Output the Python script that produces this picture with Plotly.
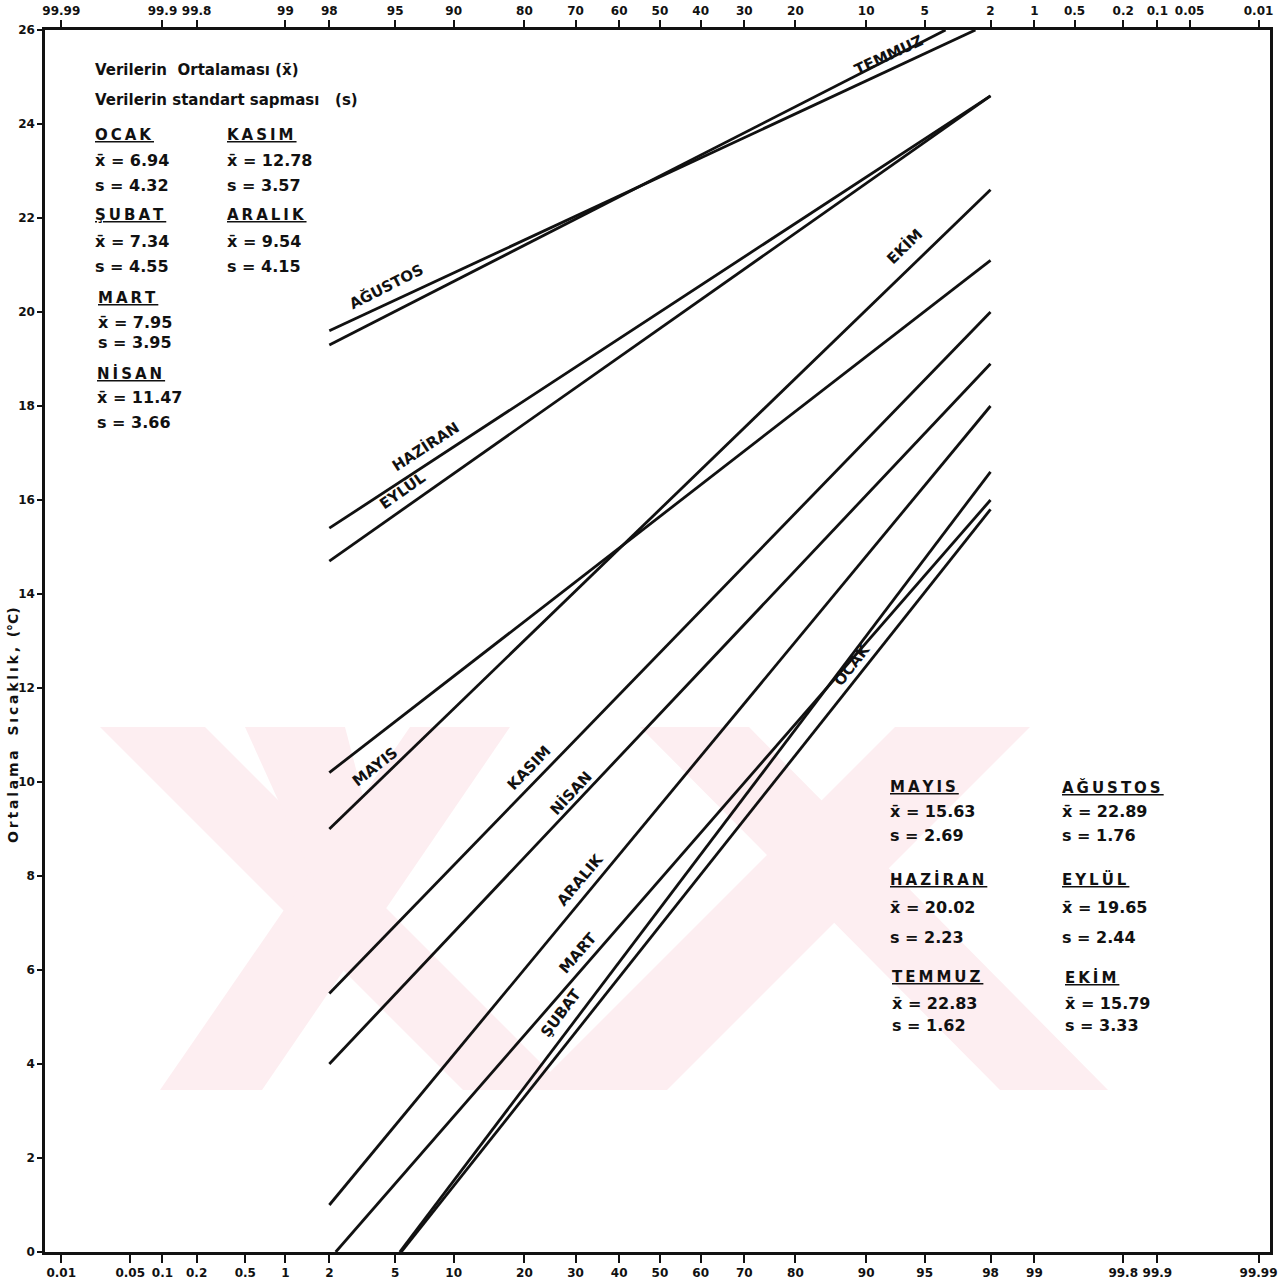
import plotly.graph_objects as go
from statistics import NormalDist

# ---------------- data ----------------
months = ["OCAK", "ŞUBAT", "MART", "NİSAN", "MAYIS", "HAZİRAN",
          "TEMMUZ", "AĞUSTOS", "EYLÜL", "EKİM", "KASIM", "ARALIK"]
means = [6.94, 7.34, 7.95, 11.47, 15.63, 20.02, 22.83, 22.89, 19.65, 15.79, 12.78, 9.54]
stds = [4.32, 4.55, 3.95, 3.66, 2.69, 2.23, 1.62, 1.76, 2.44, 3.33, 3.57, 4.15]

# visible line end points (probability %, temperature °C)
start_p = [5.4, 5.3, 2.2, 2, 2, 2, 2, 2, 2, 2, 2, 2]
start_t = [0.0, 0.0, 0.0, 4.0, 10.2, 15.4, 19.6, 19.3, 14.7, 9.0, 5.5, 1.0]
end_p = [98, 98, 98, 98, 98, 98, 97.5, 96.2, 98, 98, 98, 98]
end_t = [15.8, 16.6, 16.0, 18.9, 21.1, 24.6, 26.0, 26.0, 24.6, 22.6, 20.0, 18.0]

bottom_tick_p = [0.01, 0.05, 0.1, 0.2, 0.5, 1, 2, 5, 10, 20, 30, 40, 50, 60, 70,
                 80, 90, 95, 98, 99, 99.8, 99.9, 99.99]
bottom_tick_text = ["0.01", "0.05", "0.1", "0.2", "0.5", "1", "2", "5", "10", "20", "30",
                    "40", "50", "60", "70", "80", "90", "95", "98", "99", "99.8", "99.9", "99.99"]
top_tick_p = [0.01, 0.1, 0.2, 1, 2, 5, 10, 20, 30, 40, 50, 60, 70, 80, 90, 95, 98,
              99, 99.5, 99.8, 99.9, 99.95, 99.99]
top_tick_text = ["99.99", "99.9", "99.8", "99", "98", "95", "90", "80", "70", "60", "50",
                 "40", "30", "20", "10", "5", "2", "1", "0.5", "0.2", "0.1", "0.05", "0.01"]
y_ticks = list(range(0, 27, 2))

# ---------------- helpers ----------------
nd = NormalDist()


def zq(p):
    return nd.inv_cdf(p / 100.0)


W, H = 1288, 1286
L, R, T, B = 45, 1270, 30, 1252
XR = [-3.82, 3.79]
YR = [0, 26]


def px(x):
    return (x - L) / (R - L)


def py(y):
    return (B - y) / (B - T)


def spaced(s, sep="\u2009"):
    return sep.join(s)


FONT = "DejaVu Sans"
INK = "#111111"

fig = go.Figure()

for i, m in enumerate(months):
    fig.add_trace(go.Scatter(
        x=[zq(start_p[i]), zq(end_p[i])], y=[start_t[i], end_t[i]],
        mode="lines", line=dict(color=INK, width=2.8),
        name=m, showlegend=False, hoverinfo="skip"))

# invisible trace to activate the top axis
fig.add_trace(go.Scatter(x=[0], y=[0], xaxis="x2", mode="markers",
                         marker=dict(opacity=0), showlegend=False, hoverinfo="skip"))

annotations = []


def ann(text, x, y, size=14, xanchor="left", angle=0, yanchor="middle"):
    annotations.append(dict(
        text=text, x=px(x), y=py(y), xref="paper", yref="paper",
        xanchor=xanchor, yanchor=yanchor, showarrow=False, textangle=angle,
        font=dict(family=FONT, size=size, color=INK, weight="bold")))


# header text
ann("Verilerin  Ortalaması (x̄)", 93, 70, 15)
ann("Verilerin standart sapması   (s)", 93, 100, 15)

idx = {m: i for i, m in enumerate(months)}


def block(m, x, y0, dy1, dy2):
    i = idx[m]
    ann("<u>" + spaced(m) + "\u2009</u>", x, y0, 15)
    ann("x̄ = %.2f" % means[i], x, y0 + dy1, 16)
    ann("s = %.2f" % stds[i], x, y0 + dy2, 16)


block("OCAK", 93, 135, 25, 51)
block("ŞUBAT", 93, 215, 27, 52)
block("MART", 96, 298, 24, 45)
block("NİSAN", 95, 373, 24, 49)
block("KASIM", 225, 135, 25, 51)
block("ARALIK", 225, 215, 27, 52)

block("MAYIS", 888, 787, 24, 49)
block("HAZİRAN", 888, 880, 28, 57)
block("TEMMUZ", 890, 977, 26, 48)
block("AĞUSTOS", 1060, 787, 24, 49)
block("EYLÜL", 1060, 880, 28, 57)
block("EKİM", 1063, 977, 26, 48)

# line labels
labels = [
    ("AĞUSTOS", 386, 287, -27),
    ("TEMMUZ", 889, 55, -25),
    ("HAZİRAN", 425, 446, -33),
    ("EYLÜL", 402, 490, -35),
    ("EKİM", 904, 246, -44),
    ("MAYIS", 375, 767, -38),
    ("KASIM", 529, 768, -46),
    ("NİSAN", 570, 793, -47),
    ("ARALIK", 580, 880, -50),
    ("MART", 578, 953, -49),
    ("ŞUBAT", 561, 1013, -53),
    ("OCAK", 852, 665, -52),
]
for t, x, y, a in labels:
    ann(t, x, y, 15, xanchor="center", angle=a)

# y axis title
ann(spaced("Ortalama") + "   " + spaced("Sıcaklık,") + "  (°C)", 13, 725, 14,
    xanchor="center", angle=-90)

# watermark (faint background logo)
shapes = []
bands = [
    [(100, 727), (205, 727), (568, 1090), (463, 1090)],
    [(410, 727), (510, 727), (262, 1090), (160, 1090)],
    [(245, 727), (345, 727), (385, 880), (330, 915)],
    [(640, 727), (749, 727), (1108, 1090), (1000, 1090)],
    [(895, 727), (1030, 727), (667, 1090), (532, 1090)],
]
for b in bands:
    path = "M " + " L ".join("%.5f,%.5f" % (px(x), py(y)) for x, y in b) + " Z"
    shapes.append(dict(type="path", path=path, xref="paper", yref="paper",
                       fillcolor="#fdeef1", line=dict(width=0), layer="below"))

tickfont = dict(family=FONT, size=12, color=INK, weight="bold")

fig.update_layout(
    width=W, height=H,
    margin=dict(l=L, r=W - R, t=T, b=H - B, pad=0, autoexpand=False),
    paper_bgcolor="white", plot_bgcolor="white",
    showlegend=False,
    annotations=annotations,
    shapes=shapes,
    xaxis=dict(range=XR, tickmode="array", tickvals=[zq(p) for p in bottom_tick_p],
               ticktext=bottom_tick_text, ticks="outside", ticklen=8, tickwidth=2,
               tickcolor=INK, showline=True, linecolor=INK, linewidth=2.5,
               showgrid=False, zeroline=False, tickfont=tickfont, automargin=False),
    xaxis2=dict(range=XR, overlaying="x", side="top", tickmode="array",
                tickvals=[zq(p) for p in top_tick_p], ticktext=top_tick_text,
                ticks="outside", ticklen=7, tickwidth=2, tickcolor=INK,
                showline=True, linecolor=INK, linewidth=2.5,
                showgrid=False, zeroline=False, tickfont=tickfont, automargin=False),
    yaxis=dict(range=YR, tickmode="array", tickvals=y_ticks,
               ticktext=[str(v) for v in y_ticks], ticks="outside", ticklen=5,
               tickwidth=2, tickcolor=INK, showline=True, mirror=True,
               linecolor=INK, linewidth=2.5, showgrid=False, zeroline=False,
               tickfont=tickfont, automargin=False),
)

fig.write_html("out.html")
